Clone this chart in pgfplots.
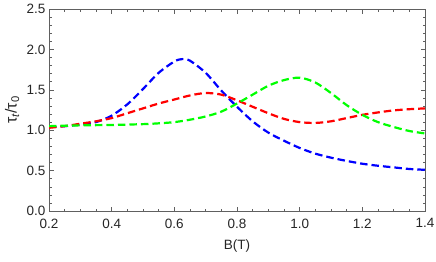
\documentclass[border=0pt]{standalone}
\usepackage{fontspec}
\setmainfont{Liberation Sans}
\usepackage{pgfplots}
\pgfplotsset{compat=1.18}
\usetikzlibrary{calc}
\begin{document}
\fontsize{13.5bp}{16bp}\selectfont
\begin{tikzpicture}
\begin{axis}[
  name=ax,
  scale only axis,
  width=376bp, height=202bp,
  xmin=0.2, xmax=1.4, ymin=0, ymax=2.5,
  xtick={0.2,0.4,...,1.41}, ytick={0,0.5,...,2.51},
  minor x tick num=3, minor y tick num=4,
  /pgf/number format/fixed,
  /pgf/number format/fixed zerofill,
  /pgf/number format/precision=1,
  /pgf/number format/assume math mode=true,
  tick align=inside,
  major tick length=4.5bp, minor tick length=2.5bp,
  axis line style={gray!75!black, line width=0.9pt},
  every tick/.style={gray!75!black, line width=0.6pt},
  every minor tick/.style={gray!75!black, line width=0.5pt},
  tick label style={font=\fontsize{13.5bp}{16bp}\selectfont, text=black!85},
  xticklabel style={yshift=-3bp},
  yticklabel style={xshift=1bp},
  xlabel={B(T)}, ylabel={τ\textsubscript{\textit{t}}/τ\textsubscript{0}},
  label style={text=black!85},
  xlabel style={font=\fontsize{13.5bp}{16bp}\selectfont, yshift=-2bp},
  ylabel style={font=\fontsize{16bp}{18bp}\selectfont, yshift=-2bp},
  every axis plot/.append style={line width=2.2bp, dash pattern=on 7.5bp off 4bp, smooth},
]
\addplot[blue] coordinates {
(0.2,1.04) (0.25,1.05) (0.3,1.07) (0.35,1.10) (0.4,1.18) (0.45,1.32) (0.5,1.51)
(0.55,1.71) (0.6,1.85) (0.625,1.88) (0.65,1.86) (0.7,1.71) (0.75,1.49) (0.8,1.29)
(0.85,1.11) (0.9,0.97) (0.95,0.87) (1.0,0.78) (1.05,0.71) (1.1,0.66) (1.15,0.62)
(1.2,0.585) (1.25,0.56) (1.3,0.54) (1.35,0.52) (1.4,0.51)};
\addplot[red] coordinates {
(0.2,1.03) (0.25,1.05) (0.3,1.08) (0.35,1.11) (0.4,1.15) (0.45,1.21) (0.5,1.27)
(0.55,1.33) (0.6,1.38) (0.65,1.43) (0.7,1.46) (0.75,1.44) (0.8,1.37) (0.85,1.29)
(0.9,1.21) (0.95,1.14) (1.0,1.10) (1.05,1.09) (1.1,1.11) (1.15,1.15) (1.2,1.19)
(1.25,1.22) (1.3,1.245) (1.35,1.26) (1.4,1.27)};
\addplot[green] coordinates {
(0.2,1.05) (0.3,1.06) (0.4,1.065) (0.5,1.075) (0.55,1.085) (0.6,1.10) (0.65,1.13)
(0.7,1.17) (0.75,1.23) (0.8,1.33) (0.85,1.44) (0.9,1.55) (0.95,1.62) (1.0,1.65)
(1.05,1.59) (1.1,1.46) (1.15,1.31) (1.2,1.19) (1.25,1.10) (1.3,1.04) (1.35,0.99) (1.4,0.96)};
\end{axis}
\pgfresetboundingbox
\path ($(ax.south west)+(-49bp,-51bp)$) rectangle ($(ax.north east)+(11bp,9bp)$);
\end{tikzpicture}
\end{document}
